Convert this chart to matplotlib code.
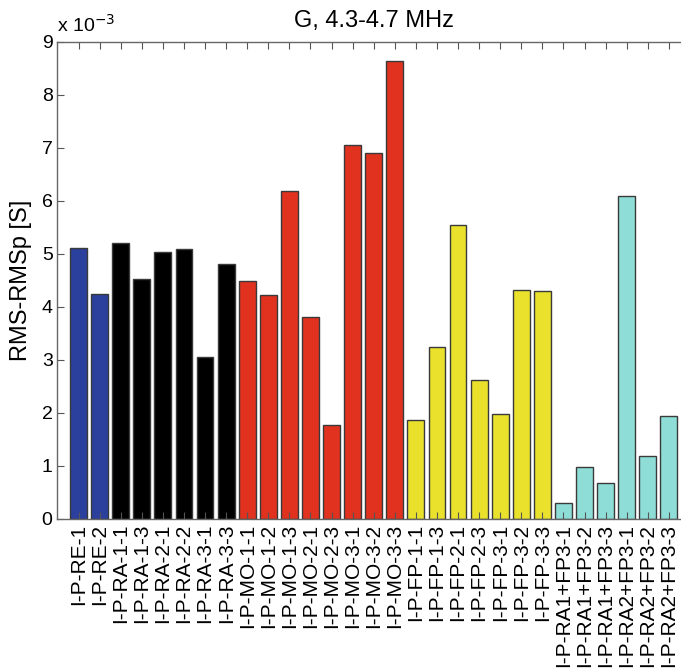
import numpy as np
import matplotlib
matplotlib.use("Agg")
import matplotlib.pyplot as plt

plt.rcParams["font.family"] = ["Liberation Sans", "DejaVu Sans"]

# Etiquetas de cada medida
etiquetas = [
    "I-P-RE-1", "I-P-RE-2",
    "I-P-RA-1-1", "I-P-RA-1-3", "I-P-RA-2-1", "I-P-RA-2-2", "I-P-RA-3-1", "I-P-RA-3-3",
    "I-P-MO-1-1", "I-P-MO-1-2", "I-P-MO-1-3", "I-P-MO-2-1", "I-P-MO-2-3",
    "I-P-MO-3-1", "I-P-MO-3-2", "I-P-MO-3-3",
    "I-P-FP-1-1", "I-P-FP-1-3", "I-P-FP-2-1", "I-P-FP-2-3", "I-P-FP-3-1",
    "I-P-FP-3-2", "I-P-FP-3-3",
    "I-P-RA1+FP3-1", "I-P-RA1+FP3-2", "I-P-RA1+FP3-3",
    "I-P-RA2+FP3-1", "I-P-RA2+FP3-2", "I-P-RA2+FP3-3",
]

# Valores RMS-RMSp en unidades de 1e-3 S
valores_re = [5.12, 4.24]
valores_ra = [5.21, 4.52, 5.03, 5.09, 3.05, 4.82]
valores_mo = [4.49, 4.22, 6.19, 3.81, 1.77, 7.06, 6.90, 8.64]
valores_fp = [1.87, 3.24, 5.55, 2.62, 1.98, 4.33, 4.31]
valores_mix = [0.30, 0.98, 0.67, 6.09, 1.18, 1.95]

grupos = [
    (valores_re, "#2B3F9C"),
    (valores_ra, "#000000"),
    (valores_mo, "#E0321F"),
    (valores_fp, "#EAE12C"),
    (valores_mix, "#8EDDD6"),
]

valores = []
colores = []
for vals, col in grupos:
    valores += vals
    colores += [col] * len(vals)

x = np.arange(1, len(valores) + 1)

fig = plt.figure(figsize=(6.81, 6.72), dpi=100)
ax = fig.add_axes([0.0844, 0.2277, 0.9287, 0.7098])

ax.bar(x, valores, width=0.8, color=colores, edgecolor="#3a3a3a", linewidth=1.0)

ax.set_xlim(0, 30)
ax.set_ylim(0, 9)
ax.set_yticks(range(0, 10))
ax.set_xticks(x)
ax.set_xticklabels(etiquetas, rotation=90, fontsize=15)
ax.tick_params(axis="y", labelsize=14)
ax.tick_params(direction="in", top=True, right=True, length=5, color="#555555")
for s in ax.spines.values():
    s.set_color("#666666")
    s.set_linewidth(1.0)

ax.set_ylabel("RMS-RMSp [S]", fontsize=17, labelpad=7)
ax.set_title("G, 4.3-4.7 MHz", fontsize=17, pad=11)
ax.text(0.0, 1.012, r"x 10$^{-3}$", transform=ax.transAxes, fontsize=14,
        ha="left", va="bottom")

fig.savefig("out.png", dpi=100)
